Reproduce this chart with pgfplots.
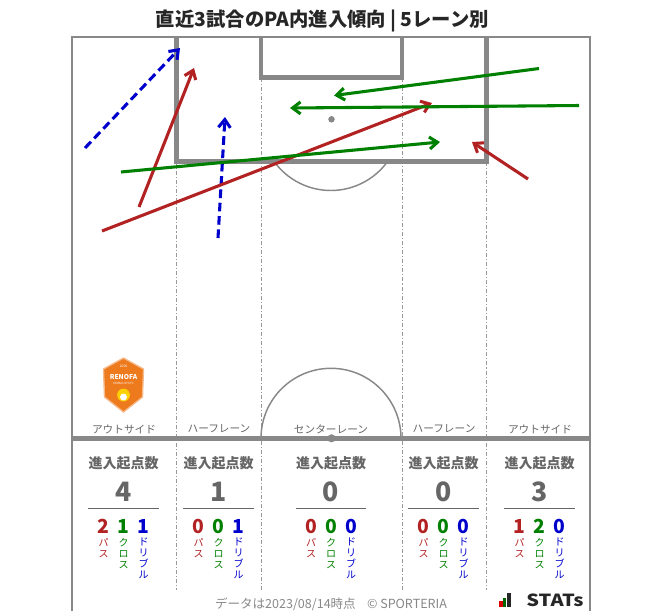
\documentclass[border=0pt]{standalone}
\usepackage{fontspec}
\setmainfont{Noto Sans CJK JP}
\usepackage{pgfplots}
\pgfplotsset{compat=1.18}
\usetikzlibrary{arrows.meta}
\definecolor{fieldgray}{HTML}{888888}
\definecolor{lanegray}{HTML}{999999}
\definecolor{pred}{HTML}{B22222}
\definecolor{cgreen}{HTML}{008000}
\definecolor{dblue}{HTML}{0000CD}
\definecolor{txtgray}{HTML}{666666}
\definecolor{logoorange}{HTML}{EE7A1E}
\definecolor{logolight}{HTML}{F6B98A}

\tikzset{
 dig/.style={font=\fontsize{14.5}{16}\selectfont\bfseries, inner sep=0pt},
 vlab/.style={font=\fontsize{7.5}{8.2}\selectfont, align=center, anchor=north, inner sep=0pt},
 lanelab/.style={font=\fontsize{8}{9}\selectfont, text=txtgray},
 outer/.style={fieldgray, line width=2pt, line join=miter},
 box/.style={fieldgray, line width=3.2pt, line join=miter},
 divider/.style={lanegray, line width=0.7pt, dash pattern=on 3pt off 1.5pt on 0.8pt off 1.5pt},
 arr/.style={line width=2.3pt, -{Straight Barb[length=6pt,width=9pt]}},
 pass/.style={arr, pred},
 cross/.style={arr, cgreen},
 dribble/.style={arr, dblue, dash pattern=on 6.5pt off 3.5pt},
}

\newcommand\lane[5]{%
 \node[font=\fontsize{10.5}{12}\selectfont\bfseries, text=txtgray] at (axis cs:#1,463) {進入起点数};
 \node[font=\fontsize{20}{22}\selectfont\bfseries, text=txtgray] at (axis cs:#1,491.5) {#2};
 \draw[line width=0.9pt, color=txtgray] (axis cs:#1,508.3) ++(-26.6pt,0) -- ++(53.2pt,0);
 \node[dig, text=pred, xshift=-15pt] at (axis cs:#1,526.5) {#3};
 \node[dig, text=cgreen] at (axis cs:#1,526.5) {#4};
 \node[dig, text=dblue, xshift=15pt] at (axis cs:#1,526.5) {#5};
 \node[vlab, text=pred, xshift=-15pt] at (axis cs:#1,538) {パ\\ス};
 \node[vlab, text=cgreen] at (axis cs:#1,538) {ク\\ロ\\ス};
 \node[vlab, text=dblue, xshift=15pt] at (axis cs:#1,538) {ド\\リ\\ブ\\ル};
}

\begin{document}
\begin{tikzpicture}
\begin{axis}[
 scale only axis, width=497.25pt, height=458.25pt,
 xmin=0, xmax=663, ymin=0, ymax=611, y dir=reverse,
 hide axis, clip=false,
]
\path (axis cs:0,0) rectangle (axis cs:663,611);

% lane dividers
\addplot[divider, no marks] coordinates {(176.5,162) (176.5,590)};
\addplot[divider, no marks] coordinates {(261,78) (261,590)};
\addplot[divider, no marks] coordinates {(402,78) (402,590)};
\addplot[divider, no marks] coordinates {(486.5,162) (486.5,590)};

% field
\addplot[outer, no marks] coordinates {(72,611) (72,37) (590,37) (590,611)};
\addplot[box, no marks] coordinates {(176.5,37) (176.5,161.5) (486.5,161.5) (486.5,37)};
\addplot[box, no marks] coordinates {(261,37) (261,77.5) (402,77.5) (402,37)};
\addplot[fieldgray, line width=3.5pt, no marks] coordinates {(72,438.3) (590,438.3)};
\draw[fieldgray, line width=1.1pt] (axis cs:401,438.3) arc[start angle=0, end angle=180, radius=52.5pt];
\draw[fieldgray, line width=1.1pt] (axis cs:275.6,163.5) arc[start angle=-142.1, end angle=-37.9, radius=52.5pt];
\addplot[only marks, mark=*, fieldgray, mark size=2.2pt] coordinates {(331.5,119.3)};
\addplot[only marks, mark=*, fieldgray, mark size=2.8pt] coordinates {(331.5,438.3)};

% arrows: dribbles
\addplot[dribble, no marks] coordinates {(85,148) (180,48)};
\addplot[dribble, no marks] coordinates {(218,238) (225,117)};
% passes
\addplot[pass, no marks] coordinates {(139,207) (194,68)};
\addplot[pass, no marks] coordinates {(102,231) (432,103)};
\addplot[pass, no marks] coordinates {(528,179) (472,142)};
% crosses
\addplot[cross, no marks] coordinates {(121,172) (440,142)};
\addplot[cross, no marks] coordinates {(539,68.5) (334,95.5)};
\addplot[cross, no marks] coordinates {(579,105.5) (290,108)};

% title
\node[font=\fontsize{14.5}{17}\selectfont\bfseries, text={black!85}] at (axis cs:322.5,20.5) {直近3試合のPA内進入傾向 | 5レーン別};

% lane labels
\node[lanelab] at (axis cs:124,429) {アウトサイド};
\node[lanelab] at (axis cs:219,429) {ハーフレーン};
\node[lanelab] at (axis cs:331,429) {センターレーン};
\node[lanelab] at (axis cs:444,429) {ハーフレーン};
\node[lanelab] at (axis cs:540,429) {アウトサイド};

% logo
\filldraw[fill=logoorange, draw=logolight, line width=1pt] (axis cs:123.5,358) -- (axis cs:143.5,369) -- (axis cs:142.5,397) -- (axis cs:123.5,412) -- (axis cs:104.5,397) -- (axis cs:103.5,369) -- cycle;
\node[font=\fontsize{2.5}{3}\selectfont, text=white] at (axis cs:123.5,366) {2008};
\node[font=\fontsize{5}{6}\selectfont\bfseries, text=white] at (axis cs:123.5,377) {RENOFA};
\node[font=\fontsize{2.2}{3}\selectfont, text=white] at (axis cs:123.5,383) {YAMAGUCHI FC};
\fill[yellow!70!orange] (axis cs:123.5,395) circle[radius=4.8pt];
\fill[white] (axis cs:123.5,397) circle[radius=2.6pt];

% table
\lane{123.5}{4}{2}{1}{1}
\lane{218.5}{1}{0}{0}{1}
\lane{331}{0}{0}{0}{0}
\lane{443.5}{0}{0}{0}{0}
\lane{539.5}{3}{1}{2}{0}

% footer
\node[font=\fontsize{9.4}{11}\selectfont, text={fieldgray}] at (axis cs:331,604) {データは2023/08/14時点\hspace{0.9em}© SPORTERIA};
\fill[red!85!black] (axis cs:499.3,600.7) rectangle (axis cs:502.5,606.8);
\fill[cgreen!80!black] (axis cs:502.8,598) rectangle (axis cs:506,606.8);
\fill[black!85] (axis cs:507.3,592.7) rectangle (axis cs:511,606.8);
\node[font=\fontsize{12.5}{14}\selectfont\bfseries, text={black!85}, anchor=west, inner sep=0pt, xscale=1.2] at (axis cs:526,600.5) {STATs};
\end{axis}
\end{tikzpicture}
\end{document}
